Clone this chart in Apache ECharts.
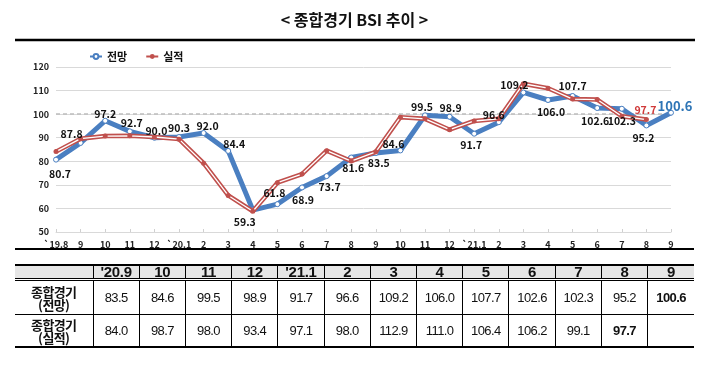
<!DOCTYPE html>
<html><head><meta charset="utf-8">
<script src="https://cdn.jsdelivr.net/npm/echarts@6/dist/echarts.min.js"></script>
<style>
html,body{margin:0;padding:0;background:#fff;}
#wrap{position:relative;width:709px;height:367px;overflow:hidden;background:#fff;}
#chart{position:absolute;left:0;top:0;width:709px;height:367px;}
#tbl{position:absolute;left:15px;top:264px;width:679px;border-collapse:collapse;table-layout:fixed;font-family:'Liberation Sans',Arial,sans-serif;color:#111;}
#tbl td{border-left:1px solid #000;border-right:1px solid #000;padding:0;text-align:center;vertical-align:middle;overflow:hidden;white-space:nowrap;}
#tbl tr td:first-child{border-left:none;}
#tbl tr td:last-child{border-right:none;}
#tbl tr.h td{height:12px;line-height:12px;background:#e6e6e6;font-weight:bold;font-size:15px;border-top:2px solid #000;border-bottom:3px double #000;letter-spacing:-0.3px;}
#tbl tr.r1 td{height:33px;border-bottom:1px solid #000;font-size:13px;letter-spacing:-0.6px;}
#tbl tr.r2 td{height:31px;border-bottom:2px solid #000;font-size:13px;letter-spacing:-0.6px;}
#tbl td.lab{font-family:'Noto Sans CJK KR',sans-serif;font-size:16px;line-height:13px;font-weight:700;letter-spacing:0.3px;}
#tbl td.b{font-weight:bold;}
</style></head>
<body>
<div id="wrap">
<div id="chart"></div>
<table id="tbl"></table>
</div>
<script>
// ---- data ----
const categories = ['`19.8','9','10','11','12','`20.1','2','3','4','5','6','7','8','9','10','11','12','`21.1','2','3','4','5','6','7','8','9'];
const forecast = [80.7, 87.8, 97.2, 92.7, 90.0, 90.3, 92.0, 84.4, 59.3, 61.8, 68.9, 73.7, 81.6, 83.5, 84.6, 99.5, 98.9, 91.7, 96.6, 109.2, 106.0, 107.7, 102.6, 102.3, 95.2, 100.6];
const actual = [84.1, 89.6, 90.7, 90.8, 90.3, 89.4, 79.2, 65.5, 58.8, 70.9, 74.6, 84.5, 80.1, 84.0, 98.7, 98.0, 93.4, 97.1, 98.0, 112.9, 111.0, 106.4, 106.2, 99.1, 97.7];
const tableHeaders = ["'20.9","10","11","12","'21.1","2","3","4","5","6","7","8","9"];
const tableStart = 13;
const rowLabels = ['종합경기<br>(전망)','종합경기<br>(실적)'];
const yTicks = {min:50, max:120, interval:10};

// ---- styles ----
const BLUE = '#4a7fc1', RED = '#c0504d';
const fcLabelOffset = [[4,14],[-9,-9],[0,-7],[2,-8],[2,-7],[0,-9],[4,-7],[6,-7],[-8,12],[-3,-11],[1,13],[3,11],[2,11],[3,10],[-7,-6],[-3,-8],[1,-9],[-3,11],[-5,-7],[-9,-7],[3,12],[0,-10],[-2,13],[0,12],[-3,13],[4,-7]];
const FONT = "'Noto Sans CJK KR', 'Noto Sans', sans-serif";

const fcLabelData = forecast.map((v,i)=>{
  const last = i === forecast.length-1;
  return {value:v, label:{show:true, position:'inside', offset:fcLabelOffset[i],
    color: last ? '#2e75b6' : '#111', fontSize: last ? 13 : 10.5, fontWeight:'bold', fontFamily:FONT,
    formatter: p=>p.value.toFixed(1)}};
});
const acLabelData = actual.map((v,i)=>{
  const last = i === actual.length-1;
  return last ? {value:v, label:{show:true, position:'inside', offset:[-1,-10], color:'#d03a3a', fontSize:10.5, fontWeight:'bold', fontFamily:FONT, formatter:p=>p.value.toFixed(1)}} : v;
});
const hiddenMark = {symbol:'circle', symbolSize:1, itemStyle:{color:'rgba(0,0,0,0)'}, lineStyle:{width:0, opacity:0}, silent:true};

const chart = echarts.init(document.getElementById('chart'), null, {renderer:'canvas'});
chart.setOption({
  animation:false,
  title:{text:'< 종합경기 BSI 추이 >', left:'center', top:7, textStyle:{fontSize:16, fontWeight:'bold', color:'#111', fontFamily:FONT}},
  legend:{data:['전망','실적'], left:84, top:46, itemWidth:12, itemHeight:6, itemGap:18,
    textStyle:{fontSize:11, fontWeight:'bold', color:'#111', fontFamily:FONT}},
  grid:{left:56, right:38, top:67, bottom:135, containLabel:false, outerBoundsMode:'none'},
  xAxis:{type:'category', data:categories, boundaryGap:false,
    axisLine:{show:true, lineStyle:{color:'#d9d9d9', width:1}},
    axisTick:{show:true, inside:true, length:3, lineStyle:{color:'#d0d0d0'}},
    axisLabel:{fontSize:9, fontWeight:'bold', color:'#222', margin:8, interval:0, fontFamily:FONT},
    splitLine:{show:false}},
  yAxis:{type:'value', min:yTicks.min, max:yTicks.max, interval:yTicks.interval,
    axisLine:{show:false}, axisTick:{show:false},
    axisLabel:{fontSize:9, fontWeight:'bold', color:'#222', margin:7, fontFamily:FONT},
    splitLine:{lineStyle:{color:'#d9d9d9', width:1}}},
  graphic:[
    {type:'line', shape:{x1:15, y1:40, x2:695, y2:40}, style:{stroke:'#000', lineWidth:2.5}},
    {type:'line', shape:{x1:15, y1:249, x2:694, y2:249}, style:{stroke:'#000', lineWidth:2}}
  ],
  series:[
    {name:'전망', type:'line', data:forecast, z:3,
      lineStyle:{color:BLUE, width:5}, symbol:'circle', symbolSize:5,
      itemStyle:{color:'#fff', borderColor:BLUE, borderWidth:1},
      markLine:{silent:true, symbol:'none', label:{show:false}, z:1,
        lineStyle:{type:[4,3], color:'#bdbdbd', width:1.5}, data:[{yAxis:100}]}},
    {name:'실적', type:'line', data:actual, z:4,
      lineStyle:{color:RED, width:4.5}, symbol:'none', itemStyle:{color:RED}},
    {name:'실적', type:'line', data:actual, z:5,
      lineStyle:{color:'#fff', width:1.3}, symbol:'circle', symbolSize:5,
      itemStyle:{color:RED}},
    Object.assign({name:'전망라벨', type:'line', data:fcLabelData, z:10}, hiddenMark),
    Object.assign({name:'실적라벨', type:'line', data:acLabelData, z:10}, hiddenMark)
  ]
});

// ---- table built from the arrays ----
const tbl = document.getElementById('tbl');
let html = '<colgroup><col style="width:78px">' + tableHeaders.map(()=> '<col>').join('') + '</colgroup>';
html += '<tr class="h"><td></td>' + tableHeaders.map(h=>'<td>'+h+'</td>').join('') + '</tr>';
const rows = [forecast, actual];
rows.forEach((arr,ri)=>{
  html += '<tr class="r'+(ri+1)+'"><td class="lab">'+rowLabels[ri]+'</td>';
  tableHeaders.forEach((h,ci)=>{
    const v = arr[tableStart+ci];
    const isLast = (tableStart+ci) === arr.length-1;
    html += '<td'+(isLast?' class="b"':'')+'>'+(v===undefined?'':v.toFixed(1))+'</td>';
  });
  html += '</tr>';
});
tbl.innerHTML = html;
</script>
</body></html>
